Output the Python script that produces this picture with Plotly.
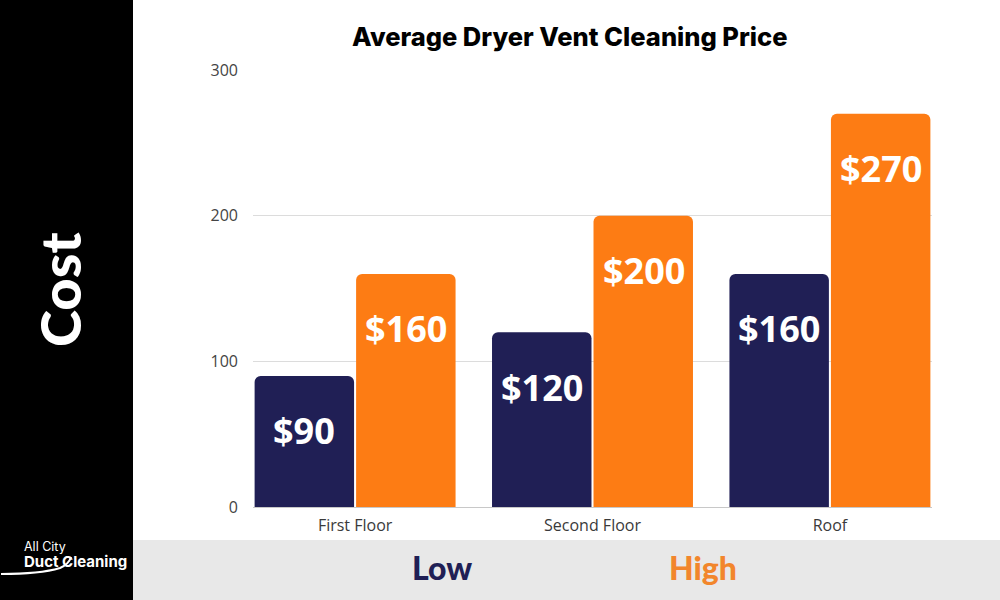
import plotly.graph_objects as go

categories = ["First Floor", "Second Floor", "Roof"]
low_values = [90, 120, 160]
high_values = [160, 200, 270]
y_ticks = [0, 100, 200, 300]

NAVY = "#201f55"
ORANGE = "#fd7c14"

W, H = 1000, 600
L, R, T, B = 253, 68, 70, 93
PW, PH = W - L - R, H - T - B

def px(x):
    return (x - L) / PW

def py(y):
    return (H - B - y) / PH

fig = go.Figure()
fig.add_trace(go.Bar(x=categories, y=low_values, name="Low", marker_color=NAVY,
                     marker_line_width=0, hoverinfo="x+y"))
fig.add_trace(go.Bar(x=categories, y=high_values, name="High", marker_color=ORANGE,
                     marker_line_width=0, hoverinfo="x+y"))

annotations = []
# value labels inside bars
for series, shift in ((low_values, -51), (high_values, 51)):
    for c, v in zip(categories, series):
        annotations.append(dict(x=c, y=v, xref="x", yref="y", text=f"${v}",
                                showarrow=False, xshift=shift, yshift=-55,
                                xanchor="center", yanchor="middle",
                                font=dict(family="Open Sans", size=36, color="white", weight="bold")))

shapes = [
    dict(type="rect", xref="paper", yref="paper", x0=px(0), x1=px(133), y0=py(600), y1=py(0),
         fillcolor="black", line_width=0, layer="below"),
    dict(type="rect", xref="paper", yref="paper", x0=px(133), x1=px(1000), y0=py(600), y1=py(540),
         fillcolor="#e8e8e8", line_width=0, layer="below"),
    dict(type="path", xref="paper", yref="paper",
         path=f"M {px(1)},{py(574)} Q {px(40)},{py(574)} {px(60)},{py(568)} Q {px(69)},{py(564)} {px(71)},{py(557)}",
         line=dict(color="white", width=2)),
]

def txt(text, x, y, size, color, weight="normal", family="Lato", xanchor="center", angle=0):
    return dict(text=text, x=px(x), y=py(y), xref="paper", yref="paper",
                xanchor=xanchor, yanchor="middle", textangle=angle, showarrow=False,
                font=dict(family=family, size=size, color=color, weight=weight))

logo = txt("All City<br><b><span style='font-size:15px'>Duct Cleaning</span></b>",
           23, 555, 12.5, "white", "normal", "Inter", xanchor="left")
logo["align"] = "left"
logo["borderpad"] = 0

annotations += [
    txt("Average Dryer Vent Cleaning Price", 570, 36, 25.5, "black", 800, "Inter"),
    txt("Cost", 59, 290, 56, "white", 900, "Lato", angle=-90),
    txt("Low", 442, 567, 32, NAVY, 900),
    txt("High", 703, 567, 32, "#f2862c", 900),
    logo,
]

fig.update_layout(
    width=W, height=H,
    margin=dict(l=L, r=R, t=T, b=B),
    paper_bgcolor="white", plot_bgcolor="white",
    barmode="group", bargap=0.145, bargroupgap=0.02,
    barcornerradius=6,
    showlegend=False,
    shapes=shapes, annotations=annotations,
    xaxis=dict(range=[-0.43, 2.43], showgrid=False, showline=True, linecolor="#c8c8c8",
               linewidth=1, ticks="", tickfont=dict(family="Open Sans", size=16, color="#3a3a3a"),
               ticklabelstandoff=4),
    yaxis=dict(range=[0, 300], tickvals=y_ticks, showgrid=True, gridcolor="#dcdcdc",
               zeroline=False, showline=False, ticks="",
               tickfont=dict(family="Open Sans", size=16, color="#444444"),
               ticklabelstandoff=14),
)

fig.write_html("out.html")
